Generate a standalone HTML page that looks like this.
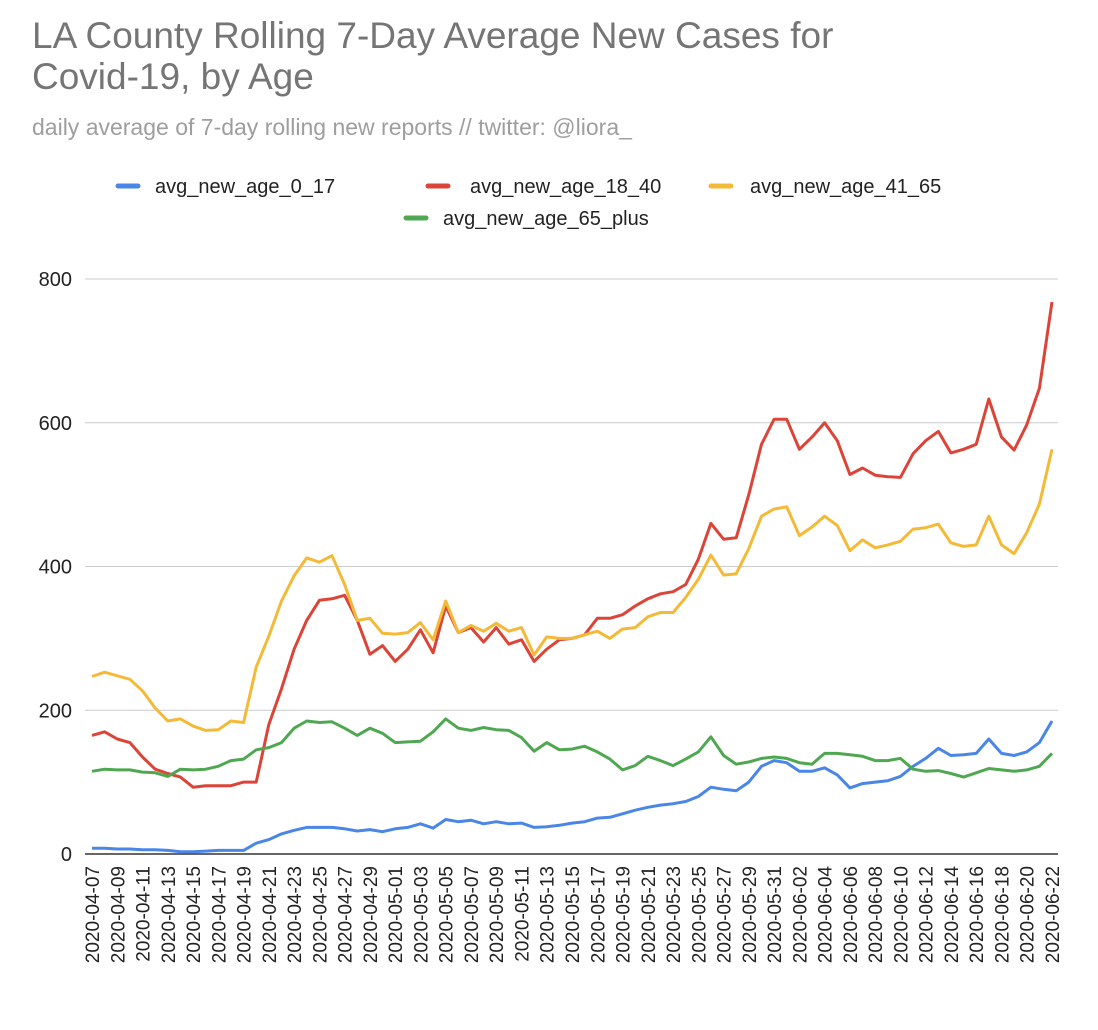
<!DOCTYPE html>
<html><head><meta charset="utf-8"><style>
body{margin:0;background:#fff;font-family:"Liberation Sans",Arial,sans-serif;}
svg{display:block}
</style></head><body>
<svg id="chart" width="1098" height="1030">
<text x="32" y="48" font-size="37" fill="#757575">LA County Rolling 7-Day Average New Cases for</text>
<text x="32" y="89" font-size="37" fill="#757575">Covid-19, by Age</text>
<text x="32" y="135" font-size="23" fill="#9e9e9e">daily average of 7-day rolling new reports // twitter: @liora_</text>
<g id="legend"></g>
<g id="grid"></g><g id="series"></g><g id="xlabels"></g>
</svg>
<script>
const startDate = "2020-04-07";
const yTicks = [0,200,400,600,800];
const age0_17 = [8,8,7,7,6,6,5,3,3,4,5,5,5,15,20,28,33,37,37,37,35,32,34,31,35,37,42,36,48,45,47,42,45,42,43,37,38,40,43,45,50,51,56,61,65,68,70,73,80,93,90,88,100,122,130,127,115,115,120,110,92,98,100,102,108,122,133,147,137,138,140,160,140,137,142,155,185];
const age18_40 = [165,170,160,155,135,118,112,107,93,95,95,95,100,100,180,230,285,325,353,355,360,325,278,290,268,285,312,280,345,308,315,295,315,292,298,268,285,298,300,305,328,328,333,345,355,362,365,375,410,460,438,440,500,570,605,605,563,580,600,575,528,537,527,525,524,557,575,588,558,563,570,633,580,562,597,648,768];
const age41_65 = [247,253,248,243,227,203,185,188,178,172,173,185,183,260,303,352,387,412,406,415,375,325,328,307,306,308,322,298,352,308,318,310,321,310,315,277,302,300,300,305,310,300,313,315,330,336,336,357,382,416,388,390,425,470,480,483,443,455,470,457,422,437,426,430,435,452,454,459,433,428,430,470,430,418,447,487,563];
const age65_plus = [115,118,117,117,114,113,108,118,117,118,122,130,132,145,148,155,175,185,183,184,175,165,175,168,155,156,157,170,188,175,172,176,173,172,162,143,155,145,146,150,142,132,117,123,136,130,123,132,142,163,137,125,128,133,135,133,127,125,140,140,138,136,130,130,133,118,115,116,112,107,113,119,117,115,117,122,140];
const seriesNames = ["avg_new_age_0_17","avg_new_age_18_40","avg_new_age_41_65","avg_new_age_65_plus"];
const seriesColors = ["#4a86e8","#db4437","#f4b937","#4fa851"];

const allSeries=[age0_17,age18_40,age41_65,age65_plus];
const N=age0_17.length;
const NS="http://www.w3.org/2000/svg";
function mk(t,a,p){const e=document.createElementNS(NS,t);for(const k in a)e.setAttribute(k,a[k]);p.appendChild(e);return e;}
const x0=92,x1=1052,yb=854,yt=279;
const xs=i=>x0+(x1-x0)*i/(N-1);
const ys=v=>yb-(yb-yt)*v/800;
const grid=document.getElementById('grid');
yTicks.forEach(t=>{
  const l=mk('line',{x1:85,x2:1058,y1:ys(t),y2:ys(t),stroke:t===0?'#333':'#ccc','stroke-width':t===0?1.5:1},grid);
  
  
  const tx=mk('text',{x:72,y:ys(t)+7,'text-anchor':'end','font-size':20,fill:'#222'},grid);
  tx.textContent=t;
  
  
});
const xl=document.getElementById('xlabels');
const d0=new Date(startDate+"T00:00:00Z");
for(let i=0;i<N;i+=2){
  const d=new Date(d0.getTime()+i*86400000);
  const s=d.toISOString().slice(0,10);
  const tx=mk('text',{transform:`translate(${xs(i)+7},866) rotate(-90)`,'text-anchor':'end','font-size':19,fill:'#222'},xl);
  tx.textContent=s;
  
  
}
const sg=document.getElementById('series');
allSeries.forEach((arr,k)=>{
  const pts=arr.map((v,i)=>xs(i).toFixed(1)+','+ys(v).toFixed(1)).join(' ');
  const p=mk('polyline',{points:pts,fill:'none',stroke:seriesColors[k],'stroke-width':3,'stroke-linejoin':'round'},sg);
  
  
});
const lg=document.getElementById('legend');
const lpos=[[118,155,186],[428,470,186],[711,750,186],[406,443,218]];
lpos.forEach((p,k)=>{
  const l=mk('line',{x1:p[0],x2:p[0]+20,y1:p[2],y2:p[2],stroke:seriesColors[k],'stroke-width':5,'stroke-linecap':'round'},lg);
  
  
  const t=mk('text',{x:p[1],y:p[2]+7,'font-size':20,fill:'#222'},lg);
  t.textContent=seriesNames[k];
  
  
});
</script>
</body></html>
